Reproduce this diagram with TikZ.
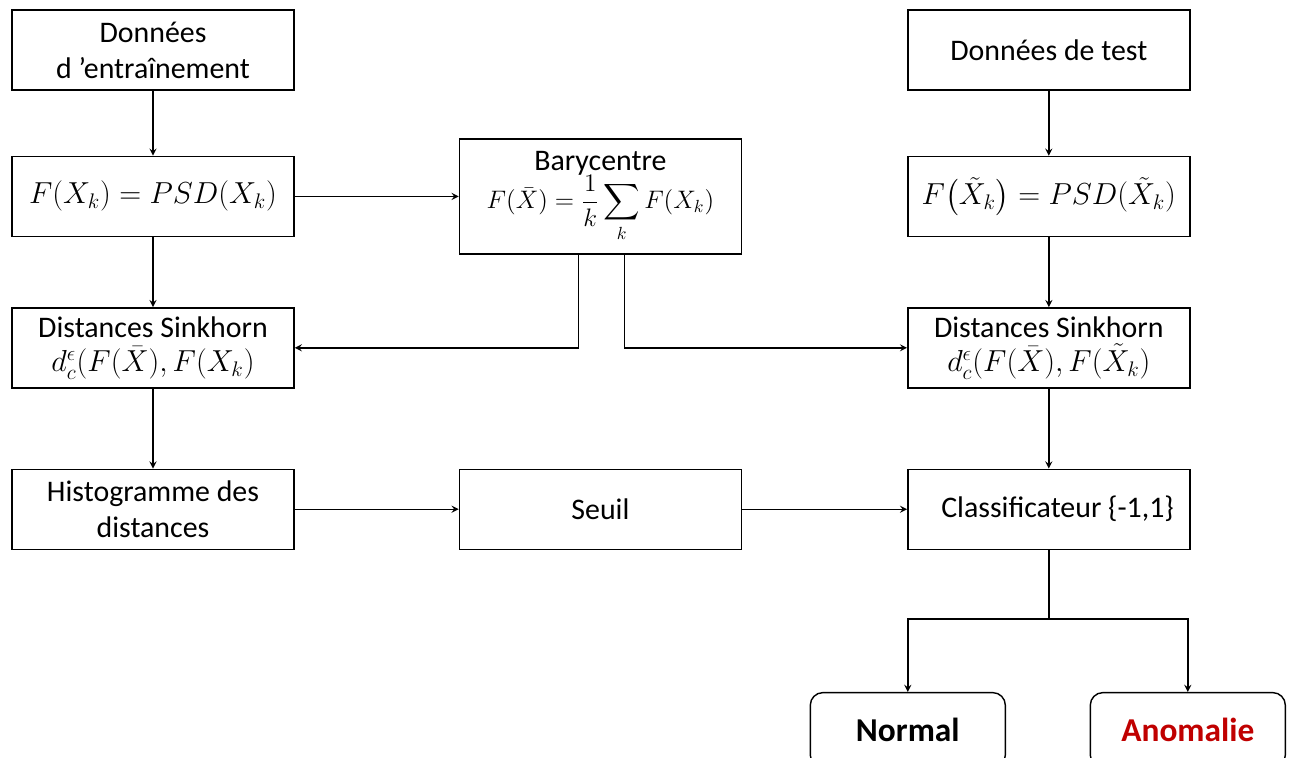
\documentclass[tikz,border=0pt]{standalone}
\usepackage{fontspec}
\setmainfont{Carlito}
\usepackage{amsmath}
\usepackage{xcolor}
\usetikzlibrary{positioning,shapes,arrows,calc}
\definecolor{anomred}{HTML}{C00000}
\newcommand{\bigmath}{\fontsize{17}{20}\selectfont}
\newcommand{\midmath}{\fontsize{16.5}{19}\selectfont}
\newcommand{\smallmath}{\fontsize{14}{16}\selectfont}

\begin{document}
\begin{tikzpicture}[
    process/.style={rectangle, draw, line width=0.8pt, minimum width=5.64cm, minimum height=1.6cm, align=center, font=\fontsize{17}{20.5}\selectfont},
    outcome/.style={rectangle, draw, line width=0.8pt, rounded corners=0.25cm, minimum width=3.9cm, minimum height=1.5cm, font=\fontsize{19}{23}\selectfont\bfseries},
    arrow/.style={->, >=stealth, line width=0.8pt}]
    \useasboundingbox (0,0) rectangle (25.86,-15.16);

    % Training branch
    \node[process] (train) at (3.06,-1.0) {Données\\d ’entraînement};
    \node[process, below=1.3cm of train] (fx) {\bigmath $F(X_k) = PSD(X_k)$};
    \node[process, below=1.4cm of fx] (dist) {Distances Sinkhorn\\[-1pt]\midmath $d_c^{\epsilon}(F(\bar{X}), F(X_k)$};
    \node[process, below=1.6cm of dist] (hist) {Histogramme des\\distances};

    % Middle column
    \node[process, minimum height=2.3cm, right=3.28cm of fx] (bary) {Barycentre\\[-1pt]\smallmath $\displaystyle F(\bar{X}) = \frac{1}{k}\sum_{k} F(X_k)$};
    \node[process, right=3.28cm of hist] (seuil) {Seuil};

    % Test branch
    \node[process, right=3.3cm of bary] (fxt) {\bigmath $F\big(\tilde{X}_k\big) = PSD(\tilde{X}_k)$};
    \node[process, above=1.3cm of fxt] (test) {Données de test};
    \node[process, below=1.4cm of fxt] (distt) {Distances Sinkhorn\\[-1pt]\midmath $d_c^{\epsilon}(F(\bar{X}), F(\tilde{X}_k)$};
    \node[process, below=1.6cm of distt] (classif) {\hspace{0.35cm}Classificateur \{-1,1\}};

    % Decision
    \coordinate (split) at ($(classif.south)+(0,-1.38)$);
    \node[outcome, below=2.84cm of classif, xshift=-2.82cm] (normal) {Normal};
    \node[outcome, below=2.84cm of classif, xshift=2.78cm, text=anomred] (anom) {Anomalie};

    % Connections
    \draw[arrow] (train) -- (fx);
    \draw[arrow] (fx) -- (dist);
    \draw[arrow] (dist) -- (hist);
    \draw[arrow] (fx) -- (bary);
    \draw[arrow] ($(bary.south)+(-0.44,0)$) |- (dist.east);
    \draw[arrow] ($(bary.south)+(0.48,0)$) |- (distt.west);
    \draw[arrow] (hist) -- (seuil);
    \draw[arrow] (seuil) -- (classif);
    \draw[arrow] (test) -- (fxt);
    \draw[arrow] (fxt) -- (distt);
    \draw[arrow] (distt) -- (classif);
    \draw[line width=0.8pt] (classif.south) -- (split);
    \draw[arrow] (split) -| (normal.north);
    \draw[arrow] (split) -| (anom.north);
\end{tikzpicture}
\end{document}
